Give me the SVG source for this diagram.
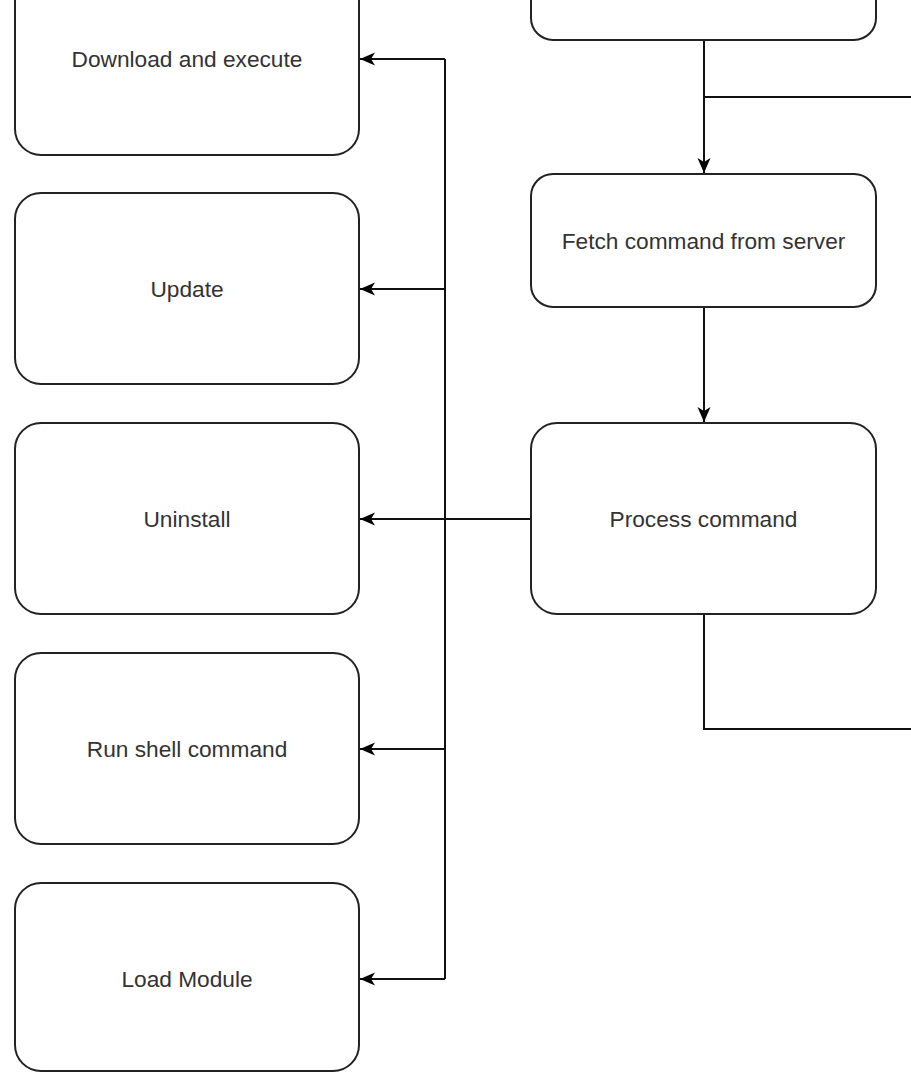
<svg xmlns="http://www.w3.org/2000/svg" width="911" height="1072" viewBox="0 0 911 1072">
<style>
.box{fill:#fff;stroke:#222;stroke-width:2}
.lbl{font-family:"Liberation Sans",Arial,sans-serif;font-size:22.7px;fill:#333;text-anchor:middle;dominant-baseline:central}
.edge{fill:none;stroke:#111;stroke-width:2}
</style>
<defs>
<marker id="arr" markerUnits="userSpaceOnUse" markerWidth="16" markerHeight="14" viewBox="0 -7 16 14" refX="15" refY="0" orient="auto">
<path d="M0,-6.5 L15,0 L0,6.5 L4,0 Z" fill="#000"/>
</marker>
</defs>
<rect width="911" height="1072" fill="#fff"/>
<g id="edges">
<path class="edge" d="M704,40 L704,173" marker-end="url(#arr)"/>
<path class="edge" d="M704,97 L911,97"/>
<path class="edge" d="M704,307 L704,422" marker-end="url(#arr)"/>
<path class="edge" d="M704,614 L704,729 L911,729"/>
<path class="edge" d="M531,519 L360,519" marker-end="url(#arr)"/>
<path class="edge" d="M445,59 L445,979"/>
<path class="edge" d="M445,59 L360,59" marker-end="url(#arr)"/>
<path class="edge" d="M445,289 L360,289" marker-end="url(#arr)"/>
<path class="edge" d="M445,749 L360,749" marker-end="url(#arr)"/>
<path class="edge" d="M445,979 L360,979" marker-end="url(#arr)"/>
</g>
<g id="n-top"><rect class="box" x="531" y="-93" width="345" height="133" rx="22"/></g>
<g id="n-fetch"><rect class="box" x="531" y="174" width="345" height="133" rx="22"/><text class="lbl" x="703.5" y="241">Fetch command from server</text></g>
<g id="n-process"><rect class="box" x="531" y="423" width="345" height="191" rx="26"/><text class="lbl" x="703.5" y="519">Process command</text></g>
<g id="n-download"><rect class="box" x="15" y="-36" width="344" height="191" rx="26"/><text class="lbl" x="187" y="59">Download and execute</text></g>
<g id="n-update"><rect class="box" x="15" y="193" width="344" height="191" rx="26"/><text class="lbl" x="187" y="289">Update</text></g>
<g id="n-uninstall"><rect class="box" x="15" y="423" width="344" height="191" rx="26"/><text class="lbl" x="187" y="519">Uninstall</text></g>
<g id="n-shell"><rect class="box" x="15" y="653" width="344" height="191" rx="26"/><text class="lbl" x="187" y="749">Run shell command</text></g>
<g id="n-module"><rect class="box" x="15" y="883" width="344" height="188" rx="26"/><text class="lbl" x="187" y="979">Load Module</text></g>
</svg>
